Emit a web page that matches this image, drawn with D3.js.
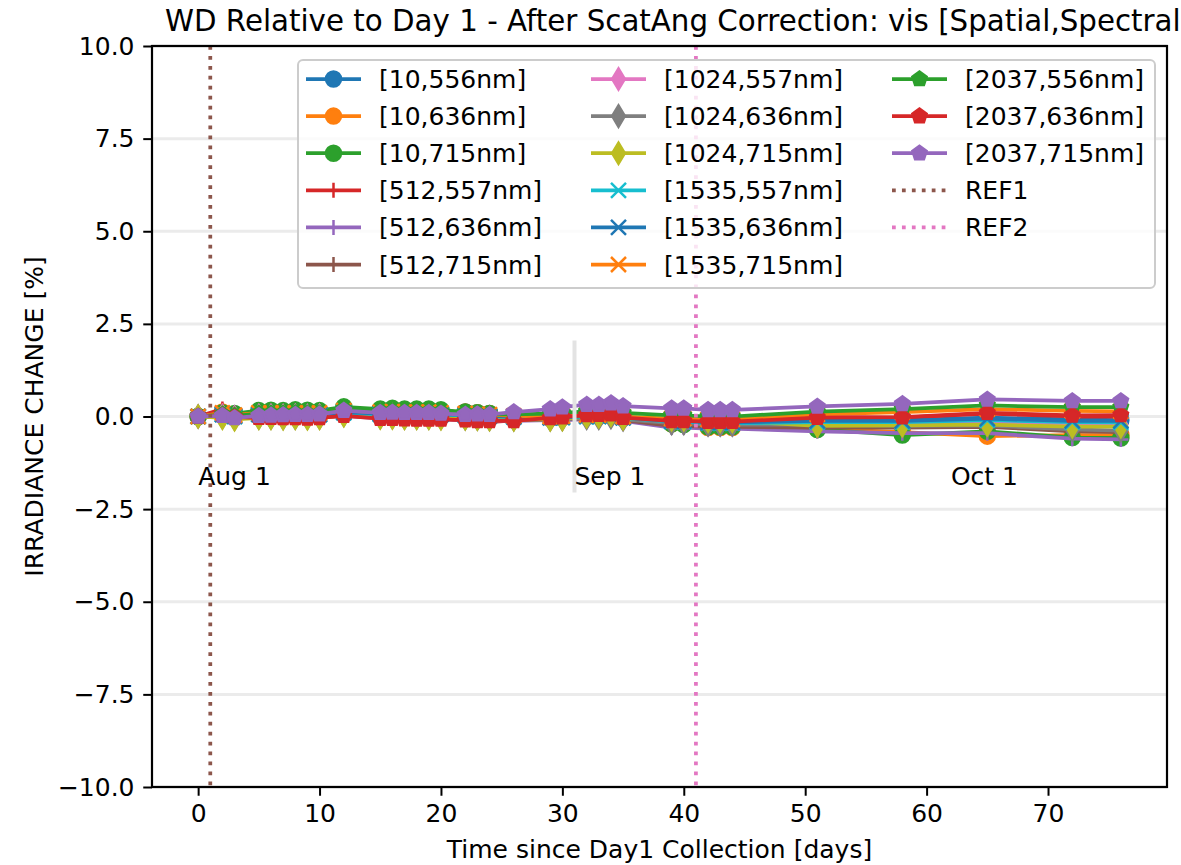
<!DOCTYPE html>
<html><head><meta charset="utf-8">
<script src="https://cdn.jsdelivr.net/npm/d3@7"></script>
<style>body{margin:0;background:#fff;overflow:hidden} text{font-family:"DejaVu Sans",sans-serif;fill:#000}</style>
</head><body><svg id="c" width="1181" height="865"></svg>
<script>
// ---------------- DATA ----------------
const days = [0,2,3,5,6,7,8,9,10,12,15,16,17,18,19,20,22,23,24,26,29,30,32,33,34,35,39,40,42,43,44,51,58,65,72,76];
const seriesNames = ["[10,556nm]","[10,636nm]","[10,715nm]","[512,557nm]","[512,636nm]","[512,715nm]",
  "[1024,557nm]","[1024,636nm]","[1024,715nm]","[1535,557nm]","[1535,636nm]","[1535,715nm]",
  "[2037,556nm]","[2037,636nm]","[2037,715nm]"];
const s01 = [0,0.08,0.02,0.1,0.1,0.1,0.11,0.1,0.1,0.18,0.14,0.15,0.13,0.14,0.14,0.12,0.12,0.1,0.08,0.02,-0.05,-0.03,0.0,0.0,0.02,-0.05,-0.18,-0.18,-0.25,-0.25,-0.25,-0.1,-0.1,-0.03,-0.08,-0.1];
const s02 = [0,0.12,0.06,0.12,0.13,0.12,0.13,0.12,0.12,0.2,0.16,0.17,0.15,0.16,0.16,0.14,0.12,0.1,0.08,0.03,-0.04,-0.02,0.02,0.02,0.04,-0.03,-0.2,-0.2,-0.3,-0.3,-0.3,-0.33,-0.42,-0.53,-0.5,-0.5];
const s03 = [0,0.1,0.08,0.16,0.17,0.16,0.18,0.17,0.16,0.26,0.2,0.22,0.2,0.2,0.2,0.18,0.12,0.1,0.08,0.04,0.0,0.02,0.05,0.05,0.08,0.0,-0.2,-0.22,-0.28,-0.28,-0.28,-0.35,-0.5,-0.4,-0.57,-0.58];
const s04 = [0,0.2,0.08,0.02,0.02,0.0,0.0,-0.02,0.0,0.05,0.0,-0.02,-0.04,-0.05,-0.05,-0.06,-0.12,-0.14,-0.15,-0.1,-0.05,-0.04,0.0,0.0,0.02,-0.05,-0.12,-0.12,-0.14,-0.14,-0.14,-0.02,-0.03,0.08,0.0,0.0];
const s05 = [0,0.0,-0.05,-0.02,-0.02,-0.03,-0.03,-0.04,-0.03,0.02,-0.05,-0.05,-0.06,-0.06,-0.06,-0.07,-0.1,-0.12,-0.12,-0.12,-0.1,-0.1,-0.08,-0.08,-0.06,-0.12,-0.3,-0.3,-0.33,-0.33,-0.33,-0.4,-0.45,-0.45,-0.6,-0.62];
const s06 = [0,0.02,-0.03,0.0,0.0,-0.01,-0.01,-0.02,-0.01,0.04,-0.02,-0.03,-0.04,-0.04,-0.04,-0.05,-0.08,-0.1,-0.1,-0.1,-0.08,-0.07,-0.05,-0.05,-0.03,-0.1,-0.25,-0.25,-0.28,-0.28,-0.28,-0.3,-0.3,-0.28,-0.4,-0.42];
const s07 = [0,0.02,-0.02,0.02,0.02,0.01,0.02,0.01,0.02,0.08,0.03,0.03,0.02,0.02,0.02,0.0,-0.02,-0.03,-0.04,-0.05,-0.06,-0.05,-0.02,-0.02,0.0,-0.06,-0.15,-0.15,-0.2,-0.2,-0.2,-0.18,-0.2,-0.15,-0.2,-0.22];
const s08 = [0,-0.02,-0.06,-0.03,-0.03,-0.04,-0.03,-0.04,-0.03,0.04,-0.02,-0.02,-0.03,-0.03,-0.03,-0.04,-0.05,-0.06,-0.07,-0.08,-0.08,-0.07,-0.04,-0.04,-0.02,-0.08,-0.18,-0.18,-0.22,-0.22,-0.22,-0.22,-0.25,-0.24,-0.35,-0.38];
const s09 = [0,-0.04,-0.08,-0.04,-0.04,-0.05,-0.04,-0.05,-0.04,0.03,-0.03,-0.03,-0.04,-0.04,-0.04,-0.05,-0.05,-0.06,-0.07,-0.08,-0.08,-0.07,0.0,0.0,0.04,-0.05,-0.08,-0.08,-0.12,-0.12,-0.12,-0.25,-0.24,-0.22,-0.27,-0.27];
const s10 = [0,0.05,0.0,0.05,0.05,0.05,0.05,0.04,0.05,0.1,0.06,0.07,0.06,0.06,0.06,0.05,0.03,0.02,0.01,-0.02,-0.04,-0.03,0.0,0.0,0.02,-0.04,-0.14,-0.14,-0.18,-0.18,-0.18,-0.15,-0.15,-0.1,-0.15,-0.16];
const s11 = [0,0.06,0.01,0.06,0.06,0.06,0.06,0.05,0.06,0.12,0.08,0.08,0.07,0.07,0.07,0.06,0.05,0.04,0.02,-0.01,-0.03,-0.02,0.01,0.01,0.03,-0.03,-0.12,-0.12,-0.16,-0.16,-0.16,-0.12,-0.12,-0.06,-0.12,-0.12];
const s12 = [0,0.1,0.04,0.1,0.1,0.1,0.1,0.09,0.1,0.16,0.12,0.13,0.12,0.12,0.12,0.1,0.08,0.06,0.05,0.02,0.0,0.01,0.04,0.04,0.06,0.0,-0.06,-0.06,-0.08,-0.08,-0.08,0.06,0.12,0.2,0.15,0.14];
const s13 = [0,0.05,0.02,0.08,0.08,0.08,0.09,0.08,0.08,0.2,0.14,0.14,0.13,0.13,0.13,0.12,0.1,0.08,0.06,0.06,0.08,0.1,0.14,0.14,0.16,0.1,0.03,0.03,0.0,0.0,0.0,0.13,0.2,0.3,0.25,0.25];
const s14 = [0,0.02,-0.02,-0.03,-0.03,-0.04,-0.04,-0.05,-0.04,0.02,-0.06,-0.06,-0.07,-0.08,-0.08,-0.08,-0.1,-0.12,-0.12,-0.12,-0.04,-0.02,0.04,0.05,0.06,-0.03,-0.12,-0.12,-0.14,-0.14,-0.14,-0.03,-0.02,0.1,0.03,0.04];
const s15 = [0,0.02,-0.04,0.02,0.03,0.04,0.05,0.05,0.06,0.16,0.1,0.11,0.1,0.1,0.1,0.08,0.05,0.06,0.05,0.12,0.2,0.25,0.32,0.32,0.36,0.28,0.22,0.22,0.18,0.18,0.18,0.27,0.34,0.46,0.42,0.42];
const seriesValues = [s01,s02,s03,s04,s05,s06,s07,s08,s09,s10,s11,s12,s13,s14,s15];
const refNames = ["REF1","REF2"];
const refDays = [1,41];
const dateLabels = ["Aug 1","Sep 1","Oct 1"];
const datePos = [0,31,62];
const monthMarkDay = 31;
const monthMarkRange = [-2.05, 2.05];
const dateLabelY = -1.85;
const xTicks = [0,10,20,30,40,50,60,70];
const yTicks = [-10,-7.5,-5,-2.5,0,2.5,5,7.5,10];
const titleText = "WD Relative to Day 1 - After ScatAng Correction: vis [Spatial,Spectral]";
const xLabel = "Time since Day1 Collection [days]";
const yLabel = "IRRADIANCE CHANGE [%]";

// ---------------- STYLE ----------------
const tab = ["#1f77b4","#ff7f0e","#2ca02c","#d62728","#9467bd","#8c564b","#e377c2","#7f7f7f","#bcbd22","#17becf"];
const seriesColors = [0,1,2,3,4,5,6,7,8,9,0,1,2,3,4].map(i=>tab[i]);
const seriesMarkers = ["o","o","o","+","+","+","d","d","d","x","x","x","p","p","p"];
const refColors = [tab[5], tab[6]];

const L=152, R=1167, T=46, B=787;
const svg = d3.select("#c");
const xmin = d3.min(days), xmax = d3.max(days), pad=(xmax-xmin)*0.05;
const x = d3.scaleLinear().domain([xmin-pad, xmax+pad]).range([L,R]);
const y = d3.scaleLinear().domain([-10,10]).range([B,T]);
const FS = 25;
const LW = 3.75, MS = 15, MEW = 2.5;

function markerPath(m){
  const h = MS/2;
  if(m==="+") return `M${-h},0H${h}M0,${-h}V${h}`;
  if(m==="x") return `M${-h},${-h}L${h},${h}M${-h},${h}L${h},${-h}`;
  if(m==="d"){ const a=h*Math.SQRT2, b=0.6*a; return `M0,${-a}L${b},0L0,${a}L${-b},0Z`; }
  if(m==="p"){ let p=[]; for(let k=0;k<5;k++){const t=Math.PI/2+k*2*Math.PI/5; p.push([h*Math.cos(t), -h*Math.sin(t)]);} return "M"+p.map(q=>q.join(",")).join("L")+"Z"; }
  return null;
}
function drawMarker(g, m, color, cx, cy){
  if(m==="o"){
    g.append("circle").attr("cx",cx).attr("cy",cy).attr("r",MS/2).attr("fill",color).attr("stroke",color).attr("stroke-width",MEW);
  } else {
    const filled = (m==="d"||m==="p");
    g.append("path").attr("d",markerPath(m)).attr("transform",`translate(${cx},${cy})`)
      .attr("fill", filled?color:"none").attr("stroke",color).attr("stroke-width",MEW)
      .attr("stroke-linejoin","miter").attr("stroke-linecap","butt");
  }
}

svg.append("defs").append("clipPath").attr("id","clip").append("rect")
  .attr("x",L).attr("y",T).attr("width",R-L).attr("height",B-T);

// grid
svg.append("g").selectAll("line").data(yTicks).join("line")
  .attr("x1",L).attr("x2",R).attr("y1",d=>y(d)).attr("y2",d=>y(d))
  .attr("stroke","#ebebeb").attr("stroke-width",3);

// data
const plot = svg.append("g").attr("clip-path","url(#clip)");
const line = d3.line().x(d=>x(d[0])).y(d=>y(d[1]));
seriesValues.forEach((vals,i)=>{
  const pts = days.map((d,j)=>[d, vals[j]]);
  const g = plot.append("g");
  g.append("path").attr("d",line(pts)).attr("fill","none").attr("stroke",seriesColors[i])
    .attr("stroke-width",LW).attr("stroke-linejoin","round").attr("stroke-linecap","butt");
  pts.forEach(p=>drawMarker(g, seriesMarkers[i], seriesColors[i], x(p[0]), y(p[1])));
});

// reference lines
refDays.forEach((d,i)=>{
  plot.append("line").attr("x1",x(d)).attr("x2",x(d)).attr("y1",T).attr("y2",B)
    .attr("stroke",refColors[i]).attr("stroke-width",LW).attr("stroke-dasharray",`${LW} ${LW*1.65}`);
});

// month marker + labels
plot.append("line").attr("x1",x(monthMarkDay)).attr("x2",x(monthMarkDay))
  .attr("y1",y(monthMarkRange[0])).attr("y2",y(monthMarkRange[1]))
  .attr("stroke","#e3e3e3").attr("stroke-width",4);
dateLabels.forEach((t,i)=>{
  svg.append("text").attr("x",x(datePos[i])).attr("y",y(dateLabelY)).attr("font-size",FS).text(t);
});

// axes
const xAxis = d3.axisBottom(x).tickValues(xTicks).tickSize(8.75).tickPadding(8.75).tickFormat(d3.format("d"));
const gx = svg.append("g").attr("transform",`translate(0,${B})`).call(xAxis);
const yAxis = d3.axisLeft(y).tickValues(yTicks).tickSize(8.75).tickPadding(8.75)
  .tickFormat(d=>d3.format(".1f")(d).replace("-","\u2212"));
const gy = svg.append("g").attr("transform",`translate(${L},0)`).call(yAxis);
[gx,gy].forEach(g=>{
  g.select(".domain").remove();
  g.selectAll(".tick line").attr("stroke","#000").attr("stroke-width",2);
  g.selectAll(".tick text").attr("font-size",FS).attr("font-family","DejaVu Sans").attr("fill","#000");
});
svg.append("rect").attr("x",L).attr("y",T).attr("width",R-L).attr("height",B-T)
  .attr("fill","none").attr("stroke","#000").attr("stroke-width",2.2);

// labels
svg.append("text").attr("x",165).attr("y",31).attr("text-anchor","start").attr("font-size",29.3).text(titleText);
svg.append("text").attr("x",(L+R)/2).attr("y",858).attr("text-anchor","middle").attr("font-size",FS).text(xLabel);
svg.append("text").attr("transform",`translate(43,${(T+B)/2}) rotate(-90)`).attr("text-anchor","middle").attr("font-size",FS).text(yLabel);

// legend
const lg = svg.append("g");
const LX=298, LY=60, LWID=857, LHGT=228;
lg.append("rect").attr("x",LX).attr("y",LY).attr("width",LWID).attr("height",LHGT).attr("rx",5)
  .attr("fill","#fff").attr("fill-opacity",0.8).attr("stroke","#cccccc").attr("stroke-width",2);
const items = seriesNames.map((n,i)=>({name:n,color:seriesColors[i],marker:seriesMarkers[i],ref:false}))
  .concat(refNames.map((n,i)=>({name:n,color:refColors[i],marker:null,ref:true})));
const colX = [306,591,892], rowY0 = 79, rowDY = 37.1, HL = 55, TP = 18;
items.forEach((it,k)=>{
  const c = Math.floor(k/6), r = k%6;
  const hx = colX[c], hy = rowY0 + r*rowDY;
  const g = lg.append("g");
  const ln = g.append("line").attr("x1",hx).attr("x2",hx+HL).attr("y1",hy).attr("y2",hy)
    .attr("stroke",it.color).attr("stroke-width",LW);
  if(it.ref){ ln.attr("stroke-dasharray",`${LW} ${LW*1.65}`); }
  else drawMarker(g, it.marker, it.color, hx+HL/2, hy);
  g.append("text").attr("x",hx+HL+TP).attr("y",hy+9).attr("font-size",FS).text(it.name);
});
</script></body></html>
